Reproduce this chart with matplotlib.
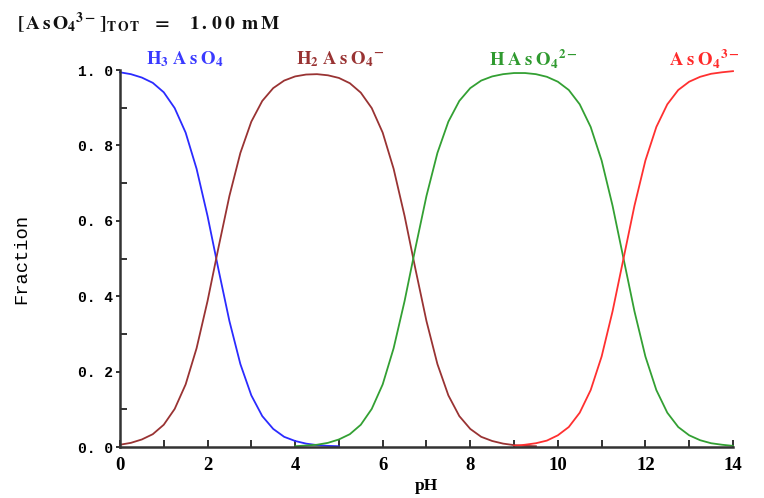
import matplotlib
matplotlib.use("Agg")
import matplotlib.pyplot as plt
from matplotlib.ticker import MultipleLocator

# Arsenate speciation vs pH, total 1.00 mM
ph_h3 = [0.0, 0.25, 0.5, 0.75, 1.0, 1.25, 1.5, 1.75, 2.0, 2.25, 2.5, 2.75,
         3.0, 3.25, 3.5, 3.75, 4.0, 4.25, 4.5, 4.75, 5.0]
frac_h3 = [0.994, 0.989, 0.980, 0.966, 0.941, 0.899, 0.834, 0.738, 0.613,
           0.471, 0.334, 0.220, 0.137, 0.082, 0.048, 0.027, 0.016, 0.009,
           0.005, 0.003, 0.002]

ph_h2 = [0.0, 0.25, 0.5, 0.75, 1.0, 1.25, 1.5, 1.75, 2.0, 2.25, 2.5, 2.75,
         3.0, 3.25, 3.5, 3.75, 4.0, 4.25, 4.5, 4.75, 5.0, 5.25, 5.5, 5.75,
         6.0, 6.25, 6.5, 6.75, 7.0, 7.25, 7.5, 7.75, 8.0, 8.25, 8.5, 8.75,
         9.0, 9.25, 9.5]
frac_h2 = [0.006, 0.011, 0.020, 0.034, 0.059, 0.101, 0.166, 0.262, 0.387,
           0.529, 0.666, 0.780, 0.863, 0.918, 0.952, 0.972, 0.983, 0.988,
           0.989, 0.986, 0.979, 0.965, 0.940, 0.899, 0.834, 0.738, 0.613,
           0.471, 0.334, 0.220, 0.137, 0.082, 0.048, 0.027, 0.016, 0.009,
           0.005, 0.003, 0.002]

ph_h1 = [4.0, 4.25, 4.5, 4.75, 5.0, 5.25, 5.5, 5.75, 6.0, 6.25, 6.5, 6.75,
         7.0, 7.25, 7.5, 7.75, 8.0, 8.25, 8.5, 8.75, 9.0, 9.25, 9.5, 9.75,
         10.0, 10.25, 10.5, 10.75, 11.0, 11.25, 11.5, 11.75, 12.0, 12.25,
         12.5, 12.75, 13.0, 13.25, 13.5, 13.75, 14.0]
frac_h1 = [0.002, 0.004, 0.006, 0.011, 0.020, 0.034, 0.059, 0.101, 0.166,
           0.262, 0.387, 0.529, 0.666, 0.780, 0.863, 0.918, 0.952, 0.972,
           0.983, 0.989, 0.992, 0.992, 0.989, 0.982, 0.969, 0.947, 0.909,
           0.849, 0.760, 0.640, 0.500, 0.360, 0.240, 0.151, 0.091, 0.053,
           0.031, 0.018, 0.010, 0.006, 0.003]

ph_h0 = [9.0, 9.25, 9.5, 9.75, 10.0, 10.25, 10.5, 10.75, 11.0, 11.25, 11.5,
         11.75, 12.0, 12.25, 12.5, 12.75, 13.0, 13.25, 13.5, 13.75, 14.0]
frac_h0 = [0.003, 0.006, 0.010, 0.017, 0.031, 0.053, 0.091, 0.151, 0.240,
           0.360, 0.500, 0.640, 0.760, 0.849, 0.909, 0.947, 0.969, 0.982,
           0.990, 0.994, 0.997]

species_labels = [
    r"$\mathbf{H}_{\mathbf{3}}\mathbf{\;A\;s\;O}_{\mathbf{4}}$",
    r"$\mathbf{H}_{\mathbf{2}}\mathbf{\;A\;s\;O}_{\mathbf{4}}{}^{\mathbf{-}}$",
    r"$\mathbf{H\;A\;s\;O}_{\mathbf{4}}{}^{\mathbf{2-}}$",
    r"$\mathbf{A\;s\;O}_{\mathbf{4}}{}^{\mathbf{3-}}$",
]
label_ph = [1.47, 5.02, 9.45, 13.35]

plt.rcParams["mathtext.fontset"] = "stix"

line_colors = ["#2b2bff", "#993333", "#33a033", "#ff3030"]
text_colors = ["#3a3aff", "#993333", "#2f9a2f", "#ff2a2a"]

fig = plt.figure(figsize=(7.64, 4.98), dpi=100)
ax = fig.add_axes([0.157, 0.1024, 0.8024, 0.757])

for xs, ys, c in zip([ph_h3, ph_h2, ph_h1, ph_h0],
                     [frac_h3, frac_h2, frac_h1, frac_h0], line_colors):
    ax.plot(xs, ys, color=c, lw=1.3, clip_on=False)

ax.set_xlim(0, 14)
ax.set_ylim(0, 1)

for sp in ["top", "right"]:
    ax.spines[sp].set_visible(False)
for sp in ["left", "bottom"]:
    ax.spines[sp].set_color("#333333")
    ax.spines[sp].set_linewidth(1.8)

ax.xaxis.set_major_locator(MultipleLocator(2))
ax.xaxis.set_minor_locator(MultipleLocator(1))
ax.yaxis.set_minor_locator(MultipleLocator(0.1))
ax.set_yticks([0, 0.2, 0.4, 0.6, 0.8, 1.0])
ax.set_yticklabels(["0. 0", "0. 2", "0. 4", "0. 6", "0. 8", "1. 0"])

ax.tick_params(axis="x", which="both", direction="in", length=5, width=1.3,
               color="#222222", pad=7)
ax.tick_params(axis="y", which="major", direction="out", length=3, width=1.3,
               color="#222222", pad=2)
ax.tick_params(axis="y", which="minor", direction="in", length=5, width=1.3,
               color="#222222")
for t in ax.get_xticklabels():
    t.set_fontfamily("Liberation Serif")
    t.set_fontweight("bold")
    t.set_fontsize(13.5)
for t in ax.get_yticklabels():
    t.set_fontfamily("Liberation Mono")
    t.set_fontweight("bold")
    t.set_fontsize(10.5)

ax.set_xlabel("pH", fontfamily="Liberation Serif", fontweight="bold",
              fontsize=12.5)
ax.xaxis.set_label_coords(0.5, -0.082)
ax.set_ylabel("Fraction", fontfamily="Liberation Mono", fontsize=13.5)
ax.yaxis.set_label_coords(-0.147, 0.5)

for lbl, xp, c in zip(species_labels, label_ph, text_colors):
    ax.text(xp, 1.03, lbl, color=c, fontsize=13.5, ha="center", va="center",
            clip_on=False)

fig.text(0.022, 0.955,
         r"$\mathbf{[\,A\,s\,O_4{}^{3-}\,]_{T\,O\,T}\;\;\;=}$"
         r"$\quad\;\mathbf{1\,.\,0\,0\;\;m\,M}$",
         fontsize=14, ha="left", va="center", color="#111111")

fig.savefig("out.png", dpi=100)
